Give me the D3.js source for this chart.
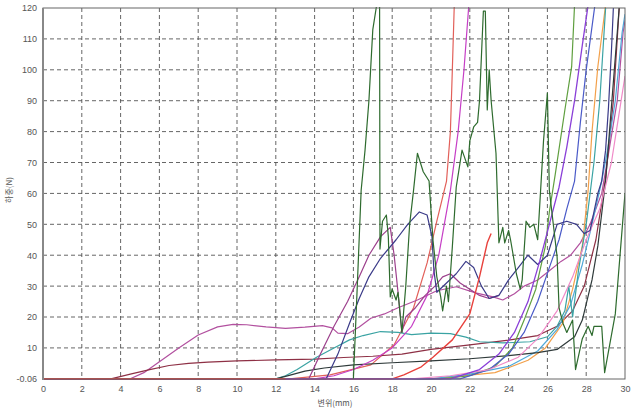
<!DOCTYPE html>
<html>
<head>
<meta charset="utf-8">
<script src="https://cdn.jsdelivr.net/npm/d3@7"></script>
<style>
  html, body { margin: 0; padding: 0; background: #fff; }
  svg { display: block; }
  .tick text { font-family: "Liberation Sans", Arial, sans-serif; font-size: 9px; fill: #555; }
</style>
</head>
<body>
<svg id="chart" width="635" height="408"></svg>
<script>
// Axis ticks
const xTicks = [0, 2, 4, 6, 8, 10, 12, 14, 16, 18, 20, 22, 24, 26, 28, 30];
const yTicks = [-0.06, 10, 20, 30, 40, 50, 60, 70, 80, 90, 100, 110, 120];

// Load–displacement records, one array of [displacement, load] per specimen
const mauvePlateau = [[0,0],[4.5,0],[5.2,2],[6,5.5],[7,10],[8,14.2],[9,16.8],[9.8,17.6],[10.5,17.5],[11.5,16.8],[12.5,16.3],[13.5,16.7],[14.4,17.2],[14.9,16.5],[15.2,14.8],[15.7,14.6],[16.3,16.8],[16.9,19.6],[17.6,21],[18.3,23],[19.3,25.5],[20.3,28.5],[21.3,29.8],[22.3,27.8],[23.2,26.5],[23.7,25.5],[24.3,27.5],[24.8,30],[25.5,32],[26.1,35],[26.7,38],[27.2,40],[27.7,44],[28.2,50],[28.8,60],[29.1,71],[29.6,90],[29.9,112],[30,116]];
const maroonLow = [[0,0],[3.5,0],[4.5,1.5],[5.5,3],[6.5,4.3],[7.5,5],[8.5,5.4],[10,5.8],[12,6.1],[14,6.4],[15.5,6.9],[17,7.3],[18.5,8],[20,9.5],[22,11],[24,12.5],[25.5,14],[26.5,17],[27.3,22],[27.9,30],[28.5,45],[29,65],[29.4,90],[29.7,120]];
const darkLow = [[0,0],[12,0],[12.5,0.8],[13.5,2.5],[14.5,3.5],[16,4.5],[18,5.2],[20,5.8],[22,6.5],[24,7.5],[25.5,8.5],[26.5,9.5],[27.4,13.6],[27.8,19],[28.3,32],[28.6,43],[29,64],[29.2,80],[29.45,100],[29.7,120]];
const tealHump = [[0,0],[12,0],[12.5,1],[13.1,3],[14.1,7],[15,10],[15.8,12.6],[16.5,14],[17.4,15.3],[18.3,15],[19,14.3],[20,14.8],[21,14.6],[21.8,13.5],[22.5,12],[23.7,11.6],[25.1,12],[26,13.6],[26.5,17],[26.9,22],[27.1,30],[27.3,20],[27.6,35],[28,50],[28.4,70],[28.7,90],[29.0,120]];
const plumHump = [[0,0],[13.7,0],[14.3,8],[15,17],[15.7,25],[16.3,33],[16.8,40],[17.4,46],[17.9,49],[18.1,40],[18.3,28],[18.5,15],[18.7,20],[19.2,23],[19.7,27],[20.2,30],[20.6,33],[21.0,34],[21.5,31],[22,29],[22.5,27],[23,26],[23.5,27]];
const navyHump = [[0,0],[14.6,0],[15.2,8],[15.8,18],[16.3,26],[16.8,33],[17.4,39],[18.2,45],[18.8,50],[19.4,54],[19.8,53],[20.05,46],[20.15,35],[20.3,28],[20.8,31],[21.3,34],[21.8,38],[22.2,36],[22.6,30],[23,26],[23.5,27],[24,32],[24.5,36],[25,40],[25.5,37],[26,40],[26.5,50],[27,51],[27.5,50],[27.9,47],[28.2,48],[28.6,60],[28.8,64],[29,74],[29.15,88],[29.3,106],[29.4,120]];
const greenJagged = [[16.0,0],[16.2,30],[16.4,61],[16.6,74],[16.8,90],[17.0,113],[17.2,121],[17.35,121],[17.37,42],[17.5,51],[17.7,53],[17.8,46],[17.9,26.5],[18.0,29],[18.2,25.5],[18.3,28],[18.5,15],[18.7,30],[18.9,50],[19.1,61],[19.3,73],[19.45,70],[19.6,67],[19.9,64],[20.1,45],[20.3,33],[20.5,26.5],[20.6,22],[20.8,30],[20.9,25],[21.1,42.7],[21.3,62],[21.6,74],[21.9,68.6],[22,77],[22.2,81.5],[22.4,83],[22.5,90],[22.7,119],[22.8,119],[22.9,87],[23.0,100],[23.1,90],[23.35,73],[23.5,44],[23.7,49],[23.8,44],[24.0,48],[24.1,45],[24.4,34],[24.6,29],[24.7,32],[24.9,51],[25.1,49],[25.3,50],[25.5,45],[25.8,77],[26.0,92.5],[26.1,61],[26.5,39.5],[26.6,23],[26.8,18],[27.0,15],[27.3,19],[27.45,3],[27.8,13],[28.1,17],[28.3,14],[28.4,17],[28.8,17],[28.95,2],[29.5,21],[30,60]];
const redShort = [[0,0],[18,0],[18.6,1.3],[19.5,3.9],[20.1,7],[21.1,12.6],[22,21],[22.5,33],[22.9,44],[23.1,47]];
const salmonSteep = [[0,0],[12.7,0],[14.8,1.3],[16.9,4.5],[18.1,11],[19.1,23],[19.8,37.5],[20.3,51],[20.8,64],[21.0,80],[21.1,100],[21.2,121]];
const magentaSteep = [[0,0],[14,0],[15,1],[16,3],[17,6],[18,10],[19,17],[19.8,27],[20.4,40],[21,61],[21.4,80],[21.7,100],[21.95,121]];
const oliveSteep = [[0,0],[20.5,0],[22,1],[23.3,4],[24.2,10],[24.8,19],[25.4,29],[25.9,43],[26.1,54],[26.4,66],[26.9,87],[27.25,101],[27.4,121]];
const violetSteep = [[12.5,0],[21,0],[22.5,3],[23.5,8],[24.3,15],[25,25],[25.6,38],[26.1,50],[26.6,62],[27.0,75],[27.4,90],[27.8,108],[28.1,121]];
const blueSteep = [[0,0],[21.5,0],[23,3],[24,8],[24.8,15],[25.5,25],[26.1,36],[26.6,45],[27.0,55],[27.4,64],[27.7,83],[28.0,100],[28.45,121]];
const orangeSteep = [[0,0],[20,0],[23.3,2],[25,6],[25.9,10],[26.8,18],[27.3,29],[27.8,43],[28.1,61],[28.3,80],[28.6,101],[29.0,121]];
const skyBlue = [[0,0],[20,0],[22,1.5],[24,4],[25.5,9],[26.5,16],[27.2,24],[27.8,37],[28.3,50],[28.8,64],[29.1,74],[29.5,90],[29.85,112],[30,118]];
const pinkLate = [[0,0],[19,0],[21,1],[23,3],[24.5,7],[25.5,13],[26.5,22],[27.3,33],[28,45],[28.7,55],[29.3,70],[29.8,90],[30,98]];

// Drawing order: later series sit on top along the baseline
const seriesData = [salmonSteep, mauvePlateau, maroonLow, orangeSteep, skyBlue, tealHump, darkLow, magentaSteep, oliveSteep, blueSteep, pinkLate, plumHump, navyHump, redShort, violetSteep, greenJagged];
const seriesColors = ["#e2605a", "#b2509f", "#8e3045", "#f2a04a", "#50a8d8", "#3aa3a3", "#2f3a3a", "#c63fc6", "#5f9f3f", "#4a5ac8", "#f08ac8", "#9c3f8c", "#3a3a88", "#e8413c", "#8a3fd8", "#2e6b2e"];
const seriesWidths = [1.2, 1.2, 1.2, 1.2, 1.2, 1.2, 1.2, 1.2, 1.2, 1.2, 1.2, 1.2, 1.2, 1.4, 1.3, 1.2];

const svg = d3.select("#chart");
const plotLeft = 43, plotRight = 625, plotTop = 8, plotBottom = 379;

const x = d3.scaleLinear().domain([0, 30]).range([plotLeft, plotRight]);
const y = d3.scaleLinear().domain([-0.06, 120]).range([plotBottom, plotTop]);

// Dashed grid
const grid = svg.append("g");
grid.selectAll("line.v").data(xTicks.slice(1, -1)).enter().append("line")
  .attr("x1", d => x(d)).attr("x2", d => x(d)).attr("y1", plotTop).attr("y2", plotBottom)
  .attr("stroke", "#555").attr("stroke-width", 0.9).attr("stroke-dasharray", "4,3");
grid.selectAll("line.h").data(yTicks.slice(1, -1)).enter().append("line")
  .attr("x1", plotLeft).attr("x2", plotRight).attr("y1", d => y(d)).attr("y2", d => y(d))
  .attr("stroke", "#555").attr("stroke-width", 0.9).attr("stroke-dasharray", "4,3");

// Curves
svg.append("clipPath").attr("id", "plotClip").append("rect")
  .attr("x", plotLeft).attr("y", plotTop - 1).attr("width", plotRight - plotLeft).attr("height", plotBottom - plotTop + 2);
const line = d3.line().x(d => x(d[0])).y(d => y(d[1]));
svg.append("g").attr("clip-path", "url(#plotClip)")
  .selectAll("path").data(seriesData).enter().append("path")
  .attr("d", line).attr("fill", "none")
  .attr("stroke", (d, i) => seriesColors[i]).attr("stroke-width", (d, i) => seriesWidths[i])
  .attr("stroke-linejoin", "round");

// Frame
svg.append("rect").attr("x", plotLeft).attr("y", plotTop).attr("width", plotRight - plotLeft).attr("height", plotBottom - plotTop)
  .attr("fill", "none").attr("stroke", "#666").attr("stroke-width", 1);
svg.append("line").attr("x1", plotLeft).attr("x2", plotLeft).attr("y1", plotTop).attr("y2", plotBottom + 1)
  .attr("stroke", "#888").attr("stroke-width", 2);

// Axes
const xAxis = d3.axisBottom(x).tickValues(xTicks).tickSize(0).tickPadding(7).tickFormat(d3.format("d"));
svg.append("g").attr("transform", `translate(0,${plotBottom})`).call(xAxis).call(g => g.select(".domain").remove());
const yAxis = d3.axisLeft(y).tickValues(yTicks).tickSize(0).tickPadding(6)
  .tickFormat(d => d === -0.06 ? "-0.06" : d3.format("d")(d));
svg.append("g").attr("transform", `translate(${plotLeft},0)`).call(yAxis).call(g => g.select(".domain").remove());

// Axis titles
svg.append("text").attr("x", 335).attr("y", 406).attr("text-anchor", "middle")
  .attr("font-family", "'Noto Sans CJK KR', sans-serif").attr("font-size", 8).attr("fill", "#555")
  .text("변위(mm)");
svg.append("text").attr("transform", "translate(12,190) rotate(-90)").attr("text-anchor", "middle")
  .attr("font-family", "'Noto Sans CJK KR', sans-serif").attr("font-size", 8).attr("fill", "#555")
  .text("하중(N)");
</script>
</body>
</html>
